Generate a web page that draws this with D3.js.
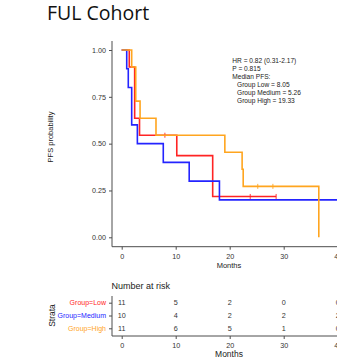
<!DOCTYPE html>
<html>
<head>
<meta charset="utf-8">
<script src="https://cdn.jsdelivr.net/npm/d3@7"></script>
<style>
  html, body { margin: 0; padding: 0; background: #fff; }
  svg { display: block; }
</style>
</head>
<body>
<svg id="chart" width="337" height="363"></svg>
<script>
// Kaplan–Meier step data (time in months, survival after each event)
const lowTimes = [0, 1.4, 2.4, 3.3, 10.2, 16.85];
const lowSurv = [1, 0.909, 0.636, 0.545, 0.436, 0.218];
const lowEnd = 28.6;
const lowCensor = [8.0, 23.8, 28.6];

const medTimes = [0, 0.93, 1.22, 1.85, 2.9, 7.7, 12.5, 18.1];
const medSurv = [1, 0.9, 0.8, 0.6, 0.5, 0.4, 0.3, 0.2];
const medEnd = 42;
const medCensor = [];

const highTimes = [0, 1.85, 2.6, 3.4, 6.35, 19.1, 22.3, 22.5, 36.5];
const highSurv = [1, 0.909, 0.727, 0.636, 0.545, 0.454, 0.363, 0.272, 0];
const highEnd = 36.5;
const highCensor = [25.2, 28.0];

const groupNames = ["Group=Low", "Group=Medium", "Group=High"];
const groupColors = ["#ff2424", "#2424ff", "#ffa51f"];

const xTicks = [0, 10, 20, 30, 40];
const yTicks = [0, 0.25, 0.5, 0.75, 1];

const riskLow = [11, 5, 2, 0, 0];
const riskMed = [10, 4, 2, 2, 2];
const riskHigh = [11, 6, 5, 1, 0];

const statLines = ["HR = 0.82 (0.31-2.17)", "P = 0.815", "Median PFS:",
  "Group Low = 8.05", "Group Medium = 5.26", "Group High = 19.33"];

const svg = d3.select("#chart");
const font = "'Liberation Sans', Arial, sans-serif";
const axisColor = "#4d4d4d";
const textColor = "#333";

// scales shared by survival plot and risk table
const x = d3.scaleLinear().domain([0, 40]).range([121.7, 337.7]);
const y = d3.scaleLinear().domain([0, 1]).range([237.3, 50]);

// title
svg.append("text").attr("x", 47).attr("y", 19.5)
  .attr("font-family", "'Open Sans', sans-serif").attr("font-size", 19.5)
  .attr("fill", "#111").text("FUL Cohort");

// ---------- survival plot ----------
const plot = svg.append("g");
const axisX0 = 112, axisY0 = 246.7;

// y axis
const yAxis = d3.axisLeft(y).tickValues(yTicks).tickFormat(d3.format(".2f")).tickSize(3).tickSizeOuter(0);
const gy = plot.append("g").attr("transform", `translate(${axisX0},0)`).call(yAxis);
gy.select(".domain").remove();
plot.append("line").attr("x1", axisX0).attr("x2", axisX0).attr("y1", 41).attr("y2", axisY0)
  .attr("stroke", axisColor).attr("stroke-width", 1);

// x axis
const xAxis = d3.axisBottom(x).tickValues(xTicks).tickSize(3).tickSizeOuter(0);
const gx = plot.append("g").attr("transform", `translate(0,${axisY0})`).call(xAxis);
gx.select(".domain").remove();
plot.append("line").attr("x1", axisX0).attr("x2", 337).attr("y1", axisY0).attr("y2", axisY0)
  .attr("stroke", axisColor).attr("stroke-width", 1);

[gx, gy].forEach(g => {
  g.selectAll(".tick line").attr("stroke", axisColor);
  g.selectAll(".tick text").attr("font-family", font).attr("font-size", 7.2).attr("fill", textColor);
});
gx.selectAll(".tick text").attr("dy", "0.9em");

plot.append("text").attr("x", 229).attr("y", 268).attr("text-anchor", "middle")
  .attr("font-family", font).attr("font-size", 7.5).attr("fill", "#222").text("Months");
plot.append("text").attr("transform", "translate(52.5,137) rotate(-90)").attr("text-anchor", "middle")
  .attr("font-family", font).attr("font-size", 7.5).attr("fill", "#222").text("PFS probability");

// survival curves
const groups = [
  { times: lowTimes, surv: lowSurv, end: lowEnd, censor: lowCensor },
  { times: medTimes, surv: medSurv, end: medEnd, censor: medCensor },
  { times: highTimes, surv: highSurv, end: highEnd, censor: highCensor }
];
const stepLine = d3.line().x(d => x(d[0])).y(d => y(d[1])).curve(d3.curveStepAfter);
const survAt = (g, t) => {
  let s = 1;
  g.times.forEach((tt, i) => { if (tt <= t) s = g.surv[i]; });
  return s;
};
groups.forEach((g, i) => {
  const pts = g.times.map((t, j) => [t, g.surv[j]]);
  pts.push([g.end, g.surv[g.surv.length - 1]]);
  plot.append("path").attr("d", stepLine(pts)).attr("fill", "none")
    .attr("stroke", groupColors[i]).attr("stroke-width", 1.6);
  g.censor.forEach(t => {
    const cx = x(t), cy = y(survAt(g, t));
    plot.append("line").attr("x1", cx).attr("x2", cx).attr("y1", cy - 2.5).attr("y2", cy + 2.5)
      .attr("stroke", groupColors[i]).attr("stroke-width", 0.9);
  });
});

// statistics annotation
statLines.forEach((s, i) => {
  svg.append("text").attr("x", i >= 3 ? 237 : 232.3).attr("y", 63 + i * 7.9)
    .attr("font-family", font).attr("font-size", 6.6).attr("fill", "#222")
    .text(s);
});

// ---------- risk table ----------
const rows = [riskLow, riskMed, riskHigh];
const ry = d3.scalePoint().domain(groupNames).range([302.7, 328.3]);
const tableBottom = 336;

svg.append("text").attr("x", 111.5).attr("y", 288.5)
  .attr("font-family", font).attr("font-size", 9).attr("fill", "#222").text("Number at risk");

svg.append("line").attr("x1", axisX0).attr("x2", axisX0).attr("y1", 296).attr("y2", tableBottom)
  .attr("stroke", axisColor).attr("stroke-width", 1);
svg.append("line").attr("x1", axisX0).attr("x2", 337).attr("y1", tableBottom).attr("y2", tableBottom)
  .attr("stroke", axisColor).attr("stroke-width", 1);

const ryAxis = d3.axisLeft(ry).tickSize(3).tickSizeOuter(0);
const gry = svg.append("g").attr("transform", `translate(${axisX0},0)`).call(ryAxis);
gry.select(".domain").remove();
gry.selectAll(".tick line").attr("stroke", axisColor);
gry.selectAll(".tick text").attr("font-family", font).attr("font-size", 7)
  .attr("fill", (d, i) => groupColors[i]);

const rxAxis = d3.axisBottom(x).tickValues(xTicks).tickSize(3).tickSizeOuter(0);
const grx = svg.append("g").attr("transform", `translate(0,${tableBottom})`).call(rxAxis);
grx.select(".domain").remove();
grx.selectAll(".tick line").attr("stroke", axisColor);
grx.selectAll(".tick text").attr("font-family", font).attr("font-size", 7.2).attr("fill", textColor)
  .attr("dy", "0.9em");

rows.forEach((r, i) => {
  r.forEach((v, j) => {
    svg.append("text").attr("x", x(xTicks[j])).attr("y", ry(groupNames[i]))
      .attr("dy", "0.35em").attr("text-anchor", "middle")
      .attr("font-family", font).attr("font-size", 7.2).attr("fill", textColor).text(v);
  });
});

svg.append("text").attr("x", 229).attr("y", 357).attr("text-anchor", "middle")
  .attr("font-family", font).attr("font-size", 8.5).attr("fill", "#222").text("Months");
svg.append("text").attr("transform", "translate(54.5,315.5) rotate(-90)").attr("text-anchor", "middle")
  .attr("font-family", font).attr("font-size", 8.5).attr("fill", "#222").text("Strata");
</script>
</body>
</html>
